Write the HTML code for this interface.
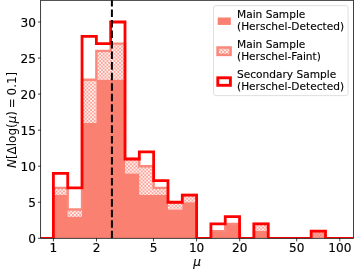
<!DOCTYPE html>
<html><head><meta charset="utf-8"><title>Magnification histogram</title>
<style>html,body{margin:0;padding:0;background:#fff}svg{display:block}</style></head>
<body>
<svg width="354" height="270" viewBox="0 0 354 270">
<defs>
<clipPath id="ax"><rect x="40.65" y="0.3" width="312.75" height="238"/></clipPath>
<pattern id="hx" width="3.62" height="3.62" patternUnits="userSpaceOnUse" patternTransform="translate(82.0 81)">
<rect width="3.62" height="3.62" fill="#fa8072"/>
<path d="M0.41,1.81 L1.81,0.41 L3.21,1.81 L1.81,3.21Z M-1.4,0 L0,-1.4 L1.4,0 L0,1.4Z M2.22,0 L3.62,-1.4 L5.02,0 L3.62,1.4Z M-1.4,3.62 L0,2.22 L1.4,3.62 L0,5.02Z M2.22,3.62 L3.62,2.22 L5.02,3.62 L3.62,5.02Z" fill="#fff"/>
</pattern>
</defs>
<rect width="354" height="270" fill="#fff"/>
<g clip-path="url(#ax)">
<polygon points="53.4,195.04 53.4,187.83 67.72,187.83 67.72,209.46 82.04,209.46 82.04,79.68 96.36,79.68 96.36,50.84 110.68,50.84 110.68,43.63 125,43.63 125,158.99 139.32,158.99 139.32,166.2 153.64,166.2 153.64,187.83 167.96,187.83 167.96,202.25 182.28,202.25 182.28,195.04 196.6,195.04 196.6,238.3 210.92,238.3 210.92,231.09 225.24,231.09 225.24,223.88 239.56,223.88 239.56,238.3 253.88,238.3 253.88,223.88 268.2,223.88 268.2,238.3 282.52,238.3 282.52,238.3 296.84,238.3 296.84,238.3 311.16,238.3 311.16,231.09 325.48,231.09 325.48,238.3 325.48,238.3 311.16,238.3 311.16,238.3 296.84,238.3 296.84,238.3 282.52,238.3 282.52,238.3 268.2,238.3 268.2,231.09 253.88,231.09 253.88,238.3 239.56,238.3 239.56,223.88 225.24,223.88 225.24,231.09 210.92,231.09 210.92,238.3 196.6,238.3 196.6,202.25 182.28,202.25 182.28,209.46 167.96,209.46 167.96,195.04 153.64,195.04 153.64,195.04 139.32,195.04 139.32,173.41 125,173.41 125,79.68 110.68,79.68 110.68,79.68 96.36,79.68 96.36,122.94 82.04,122.94 82.04,216.67 67.72,216.67 67.72,195.04 53.4,195.04" fill="url(#hx)"/>
<polygon points="53.4,238.3 53.4,195.04 67.72,195.04 67.72,216.67 82.04,216.67 82.04,122.94 96.36,122.94 96.36,79.68 110.68,79.68 110.68,79.68 125,79.68 125,173.41 139.32,173.41 139.32,195.04 153.64,195.04 153.64,195.04 167.96,195.04 167.96,209.46 182.28,209.46 182.28,202.25 196.6,202.25 196.6,238.3 210.92,238.3 210.92,231.09 225.24,231.09 225.24,223.88 239.56,223.88 239.56,238.3 253.88,238.3 253.88,231.09 268.2,231.09 268.2,238.3 282.52,238.3 282.52,238.3 296.84,238.3 296.84,238.3 311.16,238.3 311.16,238.3 325.48,238.3 325.48,238.3 325.48,238.3 311.16,238.3 311.16,238.3 296.84,238.3 296.84,238.3 282.52,238.3 282.52,238.3 268.2,238.3 268.2,238.3 253.88,238.3 253.88,238.3 239.56,238.3 239.56,238.3 225.24,238.3 225.24,238.3 210.92,238.3 210.92,238.3 196.6,238.3 196.6,238.3 182.28,238.3 182.28,238.3 167.96,238.3 167.96,238.3 153.64,238.3 153.64,238.3 139.32,238.3 139.32,238.3 125,238.3 125,238.3 110.68,238.3 110.68,238.3 96.36,238.3 96.36,238.3 82.04,238.3 82.04,238.3 67.72,238.3 67.72,238.3 53.4,238.3" fill="#fa8072"/>
<rect x="311.16" y="231.09" width="14.32" height="7.21" fill="#fa8072" fill-opacity="0.7"/>
<polyline points="53.4,238.3 53.4,187.83 67.72,187.83 67.72,209.46 82.04,209.46 82.04,79.68 96.36,79.68 96.36,50.84 110.68,50.84 110.68,43.63 125,43.63 125,158.99 139.32,158.99 139.32,166.2 153.64,166.2 153.64,187.83 167.96,187.83 167.96,202.25 182.28,202.25 182.28,195.04 196.6,195.04 196.6,238.3 210.92,238.3 210.92,231.09 225.24,231.09 225.24,223.88 239.56,223.88 239.56,238.3 253.88,238.3 253.88,223.88 268.2,223.88 268.2,238.3 282.52,238.3 282.52,238.3 296.84,238.3 296.84,238.3 311.16,238.3 311.16,231.09 325.48,231.09 325.48,238.3" fill="none" stroke="#fa897c" stroke-width="2.4" stroke-linejoin="miter"/>
<polyline points="35.65,238.3 53.4,238.3 53.4,173.41 67.72,173.41 67.72,187.83 82.04,187.83 82.04,36.42 96.36,36.42 96.36,43.63 110.68,43.63 110.68,22 125,22 125,158.99 139.32,158.99 139.32,151.78 153.64,151.78 153.64,180.62 167.96,180.62 167.96,202.25 182.28,202.25 182.28,195.04 196.6,195.04 196.6,238.3 210.92,238.3 210.92,223.88 225.24,223.88 225.24,216.67 239.56,216.67 239.56,238.3 253.88,238.3 253.88,223.88 268.2,223.88 268.2,238.3 282.52,238.3 282.52,238.3 296.84,238.3 296.84,238.3 311.16,238.3 311.16,231.09 325.48,231.09 325.48,238.3 358.4,238.3" fill="none" stroke="#ff0000" stroke-width="2.8" stroke-linejoin="miter"/>
<line x1="111.9" y1="238.3" x2="111.9" y2="0" stroke="#000" stroke-width="2" stroke-dasharray="7.56 2.98"/>
</g>
<rect x="40.65" y="0.3" width="312.75" height="238" fill="none" stroke="#000" stroke-width="0.75"/>
<line x1="53.4" y1="238.3" x2="53.4" y2="241.4" stroke="#000" stroke-width="0.75"/>
<text x="53.4" y="252" text-anchor="middle" font-family="DejaVu Sans, Liberation Sans, sans-serif" font-size="12.1" stroke="#000" stroke-width="0.15">1</text>
<line x1="96.51" y1="238.3" x2="96.51" y2="241.4" stroke="#000" stroke-width="0.75"/>
<text x="96.51" y="252" text-anchor="middle" font-family="DejaVu Sans, Liberation Sans, sans-serif" font-size="12.1" stroke="#000" stroke-width="0.15">2</text>
<line x1="153.49" y1="238.3" x2="153.49" y2="241.4" stroke="#000" stroke-width="0.75"/>
<text x="153.49" y="252" text-anchor="middle" font-family="DejaVu Sans, Liberation Sans, sans-serif" font-size="12.1" stroke="#000" stroke-width="0.15">5</text>
<line x1="196.6" y1="238.3" x2="196.6" y2="241.4" stroke="#000" stroke-width="0.75"/>
<text x="196.6" y="252" text-anchor="middle" font-family="DejaVu Sans, Liberation Sans, sans-serif" font-size="12.1" stroke="#000" stroke-width="0.15">10</text>
<line x1="239.71" y1="238.3" x2="239.71" y2="241.4" stroke="#000" stroke-width="0.75"/>
<text x="239.71" y="252" text-anchor="middle" font-family="DejaVu Sans, Liberation Sans, sans-serif" font-size="12.1" stroke="#000" stroke-width="0.15">20</text>
<line x1="296.69" y1="238.3" x2="296.69" y2="241.4" stroke="#000" stroke-width="0.75"/>
<text x="296.69" y="252" text-anchor="middle" font-family="DejaVu Sans, Liberation Sans, sans-serif" font-size="12.1" stroke="#000" stroke-width="0.15">50</text>
<line x1="339.8" y1="238.3" x2="339.8" y2="241.4" stroke="#000" stroke-width="0.75"/>
<text x="339.8" y="252" text-anchor="middle" font-family="DejaVu Sans, Liberation Sans, sans-serif" font-size="12.1" stroke="#000" stroke-width="0.15">100</text>
<line x1="40.65" y1="238.3" x2="38.0" y2="238.3" stroke="#000" stroke-width="0.75"/>
<text x="36.0" y="242.95" text-anchor="end" font-family="DejaVu Sans, Liberation Sans, sans-serif" font-size="12.1" stroke="#000" stroke-width="0.15">0</text>
<line x1="40.65" y1="202.25" x2="38.0" y2="202.25" stroke="#000" stroke-width="0.75"/>
<text x="36.0" y="206.9" text-anchor="end" font-family="DejaVu Sans, Liberation Sans, sans-serif" font-size="12.1" stroke="#000" stroke-width="0.15">5</text>
<line x1="40.65" y1="166.2" x2="38.0" y2="166.2" stroke="#000" stroke-width="0.75"/>
<text x="36.0" y="170.85" text-anchor="end" font-family="DejaVu Sans, Liberation Sans, sans-serif" font-size="12.1" stroke="#000" stroke-width="0.15">10</text>
<line x1="40.65" y1="130.15" x2="38.0" y2="130.15" stroke="#000" stroke-width="0.75"/>
<text x="36.0" y="134.8" text-anchor="end" font-family="DejaVu Sans, Liberation Sans, sans-serif" font-size="12.1" stroke="#000" stroke-width="0.15">15</text>
<line x1="40.65" y1="94.1" x2="38.0" y2="94.1" stroke="#000" stroke-width="0.75"/>
<text x="36.0" y="98.75" text-anchor="end" font-family="DejaVu Sans, Liberation Sans, sans-serif" font-size="12.1" stroke="#000" stroke-width="0.15">20</text>
<line x1="40.65" y1="58.05" x2="38.0" y2="58.05" stroke="#000" stroke-width="0.75"/>
<text x="36.0" y="62.7" text-anchor="end" font-family="DejaVu Sans, Liberation Sans, sans-serif" font-size="12.1" stroke="#000" stroke-width="0.15">25</text>
<line x1="40.65" y1="22" x2="38.0" y2="22" stroke="#000" stroke-width="0.75"/>
<text x="36.0" y="26.65" text-anchor="end" font-family="DejaVu Sans, Liberation Sans, sans-serif" font-size="12.1" stroke="#000" stroke-width="0.15">30</text>
<text x="197" y="266" text-anchor="middle" font-family="DejaVu Sans, Liberation Sans, sans-serif" font-size="12.1" stroke="#000" stroke-width="0.15" font-style="italic">μ</text>
<text transform="translate(16.1,119.9) rotate(-90)" text-anchor="middle" font-family="DejaVu Sans, Liberation Sans, sans-serif" font-size="11.95"><tspan font-style="italic">N</tspan>[Δlog(<tspan font-style="italic">μ</tspan>)<tspan dx="-1"> =</tspan><tspan dx="-1"> 0.1]</tspan></text>
<rect x="213.5" y="5.6" width="134.6" height="90" rx="2.5" fill="#fff" fill-opacity="0.8" stroke="#ccc" stroke-opacity="0.8" stroke-width="0.8"/>
<rect x="217.7" y="17.5" width="13.1" height="7.4" fill="#fa8072"/>
<rect x="217.6" y="47.5" width="13" height="7.4" fill="url(#hx)" stroke="#fa887a" stroke-width="2.5"/>
<rect x="217.8" y="77.8" width="12.6" height="7.5" fill="#fff" stroke="#ff0000" stroke-width="2.9"/>
<text x="237.0" y="18" font-family="DejaVu Sans, Liberation Sans, sans-serif" font-size="10.6" stroke="#000" stroke-width="0.12">Main Sample</text>
<text x="237.0" y="30.4" font-family="DejaVu Sans, Liberation Sans, sans-serif" font-size="10.6" stroke="#000" stroke-width="0.12">(Herschel-Detected)</text>
<text x="237.0" y="47.9" font-family="DejaVu Sans, Liberation Sans, sans-serif" font-size="10.6" stroke="#000" stroke-width="0.12">Main Sample</text>
<text x="237.0" y="60.3" font-family="DejaVu Sans, Liberation Sans, sans-serif" font-size="10.6" stroke="#000" stroke-width="0.12">(Herschel-Faint)</text>
<text x="237.0" y="77.8" font-family="DejaVu Sans, Liberation Sans, sans-serif" font-size="10.6" stroke="#000" stroke-width="0.12">Secondary Sample</text>
<text x="237.0" y="90.2" font-family="DejaVu Sans, Liberation Sans, sans-serif" font-size="10.6" stroke="#000" stroke-width="0.12">(Herschel-Detected)</text>
</svg>
</body></html>
